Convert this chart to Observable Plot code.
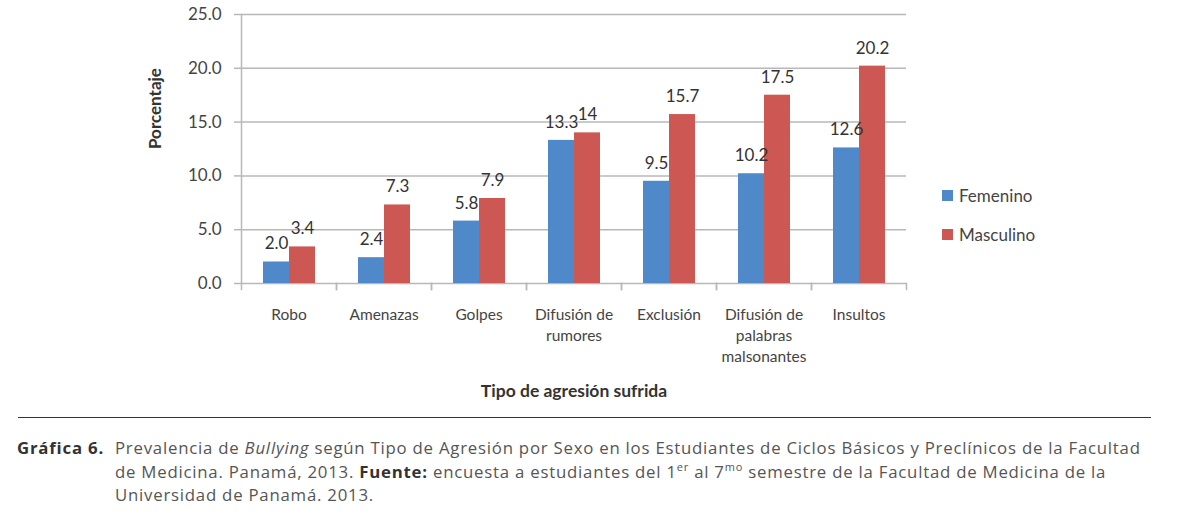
<!DOCTYPE html>
<html><head><meta charset="utf-8">
<script src="https://cdn.jsdelivr.net/npm/d3@7"></script>
<script src="https://cdn.jsdelivr.net/npm/@observablehq/plot@0.6"></script>
<style>
body{margin:0;background:#fff;width:1190px;height:524px;position:relative;overflow:hidden;font-family:Lato,"Open Sans",sans-serif;}
#chart{position:absolute;left:0;top:0;}
.lg{position:absolute;left:942px;font-size:17px;color:#444;display:flex;align-items:center;height:20px;}
.lg span.sw{display:inline-block;width:11px;height:11px;margin-right:6px;}
#rule{position:absolute;left:18px;width:1133px;top:417px;height:0;border-top:1.5px solid #333;}
#caption{position:absolute;left:17px;top:436px;width:1170px;font-family:"Open Sans",sans-serif;font-size:16.8px;letter-spacing:0.77px;line-height:23.5px;color:#555;display:flex;white-space:nowrap;}
#caption .lab{font-weight:bold;color:#333;width:98px;flex:none;letter-spacing:0.8px;}
#caption b{color:#333;}
#caption sup{font-size:11px;line-height:0;}
</style></head><body>
<div id="chart"></div>
<div id="legend"></div>
<div id="rule"></div>
<div id="caption"><div class="lab">Gráfica 6.</div><div>Prevalencia de <i>Bullying</i> según Tipo de Agresión por Sexo en los Estudiantes de Ciclos Básicos y Preclínicos de la Facultad<br>de Medicina. Panamá, 2013. <b>Fuente:</b> encuesta a estudiantes del 1<sup>er</sup> al 7<sup>mo</sup> semestre de la Facultad de Medicina de la<br>Universidad de Panamá. 2013.</div></div>
<script>
const categories = ["Robo","Amenazas","Golpes","Difusión de\nrumores","Exclusión","Difusión de\npalabras\nmalsonantes","Insultos"];
const series = ["Femenino","Masculino"];
const femenino = [2.0, 2.4, 5.8, 13.3, 9.5, 10.2, 12.6];
const masculino = [3.4, 7.3, 7.9, 14, 15.7, 17.5, 20.2];
const labelsF = ["2.0","2.4","5.8","13.3","9.5","10.2","12.6"];
const labelsM = ["3.4","7.3","7.9","14","15.7","17.5","20.2"];
const yTicks = [0, 5, 10, 15, 20, 25];
const colors = ["#5089CA", "#CD5752"];

const data = categories.flatMap((c, i) => [
  {cat: c, sex: series[0], value: femenino[i], label: labelsF[i]},
  {cat: c, sex: series[1], value: masculino[i], label: labelsM[i]}
]);

const W = 1190, H = 410, mL = 240, mR = 1190 - 907, mT = 14, mB = H - 283;
const gray = "#b8b8b8";

const chart = Plot.plot({
  width: W, height: H,
  marginLeft: mL, marginRight: mR, marginTop: mT, marginBottom: mB,
  style: {fontFamily: "Lato, 'Open Sans', sans-serif", color: "#444", background: "white", overflow: "visible"},
  fx: {domain: categories, padding: 0, axis: null, label: null},
  x: {domain: series, paddingInner: 0, paddingOuter: 0.765, axis: null},
  y: {domain: [0, 25], axis: null},
  color: {domain: series, range: colors},
  marks: [
    Plot.ruleY(yTicks, {stroke: gray, strokeWidth: 1.5}),
    Plot.axisY({ticks: yTicks, tickFormat: d3.format(".1f"), tickSize: 7, tickPadding: 13, fontSize: 17, stroke: gray, strokeWidth: 1.5, fill: "#444", label: null}),
    Plot.frame({anchor: "left", facetAnchor: "left", stroke: gray, strokeWidth: 1.5}),
    Plot.frame({anchor: "left", insetTop: 283 - mT, insetBottom: -6, stroke: gray, strokeWidth: 1.5}),
    Plot.frame({anchor: "right", insetTop: 283 - mT, insetBottom: -6, stroke: gray, strokeWidth: 1.5}),
    Plot.barY(data, {fx: "cat", x: "sex", y: "value", fill: "sex"}),
    Plot.text(data, {fx: "cat", x: "sex", y: "value", text: "label", dy: -18, fontSize: 17, fill: "#333"}),
    Plot.axisFx({anchor: "bottom", tickSize: 0, tickPadding: 22, fontSize: 15.5, lineHeight: 1.35, fill: "#444", label: null}),
    Plot.text(["Porcentaje"], {frameAnchor: "left", rotate: -90, dx: -86, fontWeight: "bold", fontSize: 17, fill: "#333", facet: "super"}),
    Plot.text(["Tipo de agresión sufrida"], {frameAnchor: "bottom", dy: 113, fontWeight: "bold", fontSize: 17.5, fill: "#333", facet: "super"})
  ]
});
document.getElementById("chart").appendChild(chart);

const lg = document.getElementById("legend");
series.forEach((s, i) => {
  const d = document.createElement("div");
  d.className = "lg";
  d.style.top = (185 + i * 39) + "px";
  d.innerHTML = `<span class="sw" style="background:${colors[i]}"></span>${s}`;
  lg.appendChild(d);
});
</script>
</body></html>
